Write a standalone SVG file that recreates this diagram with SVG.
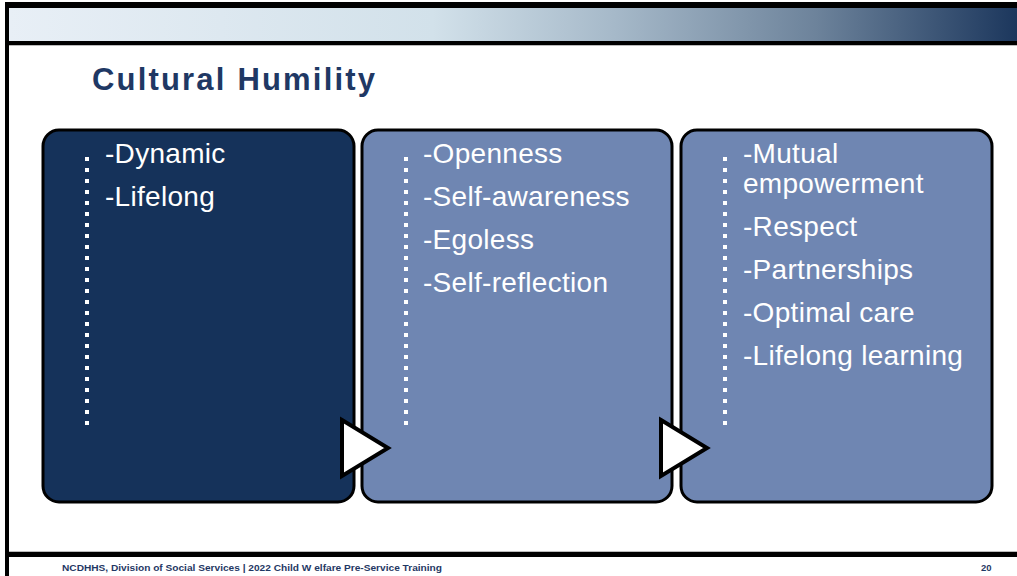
<svg xmlns="http://www.w3.org/2000/svg" width="1017" height="576" viewBox="0 0 1017 576">
<defs>
<linearGradient id="hdr" x1="0" y1="0" x2="1" y2="0">
<stop offset="0" stop-color="#E8EFF6"/>
<stop offset="0.42" stop-color="#D2E1EA"/>
<stop offset="0.6" stop-color="#A6B9C9"/>
<stop offset="0.8" stop-color="#6D839B"/>
<stop offset="1" stop-color="#1C375D"/>
</linearGradient>
</defs>
<style>
.box{stroke:#000;stroke-width:3}
.dark{fill:#15325A}
.light{fill:#6F86B2}
.t{font-family:"Liberation Sans",Arial,sans-serif;font-size:28px;fill:#fff;letter-spacing:0.3px}
.dots{stroke:#fff;stroke-width:4;stroke-dasharray:4 7}
.chev{fill:#fff;stroke:#000;stroke-width:4;stroke-linejoin:miter}
</style>
<rect width="1017" height="576" fill="#fff"/>
<g id="frame">
<rect x="5" y="2" width="1012" height="6" fill="#000"/>
<rect x="9" y="8" width="1008" height="33" fill="url(#hdr)"/>
<rect x="5" y="41" width="1012" height="4" fill="#000"/>
<rect x="9" y="45" width="1008" height="1" fill="#bbb"/>
<rect x="5" y="2" width="4" height="574" fill="#000"/>
<rect x="5" y="552" width="1012" height="5" fill="#000"/>
<rect x="9" y="551" width="1008" height="1" fill="#bbb"/>
</g>
<text id="title" x="92" y="90" font-family="'Liberation Sans',Arial,sans-serif" font-weight="bold" font-size="31" fill="#1F3864" textLength="283" lengthAdjust="spacing">Cultural Humility</text>
<g id="box1">
<rect class="box dark" x="43" y="130" width="311" height="372" rx="16"/>
<line class="dots" x1="87" y1="157" x2="87" y2="427"/>
<text class="t" x="105" y="163">-Dynamic</text>
<text class="t" x="105" y="206">-Lifelong</text>
</g>
<g id="box2">
<rect class="box light" x="362" y="130" width="310" height="372" rx="16"/>
<line class="dots" x1="406" y1="157" x2="406" y2="427"/>
<text class="t" x="423" y="163">-Openness</text>
<text class="t" x="423" y="206">-Self-awareness</text>
<text class="t" x="423" y="249">-Egoless</text>
<text class="t" x="423" y="292">-Self-reflection</text>
</g>
<g id="box3">
<rect class="box light" x="681" y="130" width="311" height="372" rx="16"/>
<line class="dots" x1="725" y1="157" x2="725" y2="427"/>
<text class="t" x="743" y="163">-Mutual</text>
<text class="t" x="743" y="193">empowerment</text>
<text class="t" x="743" y="236">-Respect</text>
<text class="t" x="743" y="279">-Partnerships</text>
<text class="t" x="743" y="322">-Optimal care</text>
<text class="t" x="743" y="365">-Lifelong learning</text>
</g>
<g id="connectors">
<polygon class="chev" points="342,420 388,448 342,476"/>
<polygon class="chev" points="661,420 707,448 661,476"/>
</g>
<g id="footer" font-family="'Liberation Sans',Arial,sans-serif" font-weight="bold" font-size="9.5" fill="#1F3864">
<text x="62" y="571" textLength="380" lengthAdjust="spacingAndGlyphs">NCDHHS, Division of Social Services | 2022 Child W elfare Pre-Service Training</text>
<text x="981" y="571">20</text>
</g>
</svg>
